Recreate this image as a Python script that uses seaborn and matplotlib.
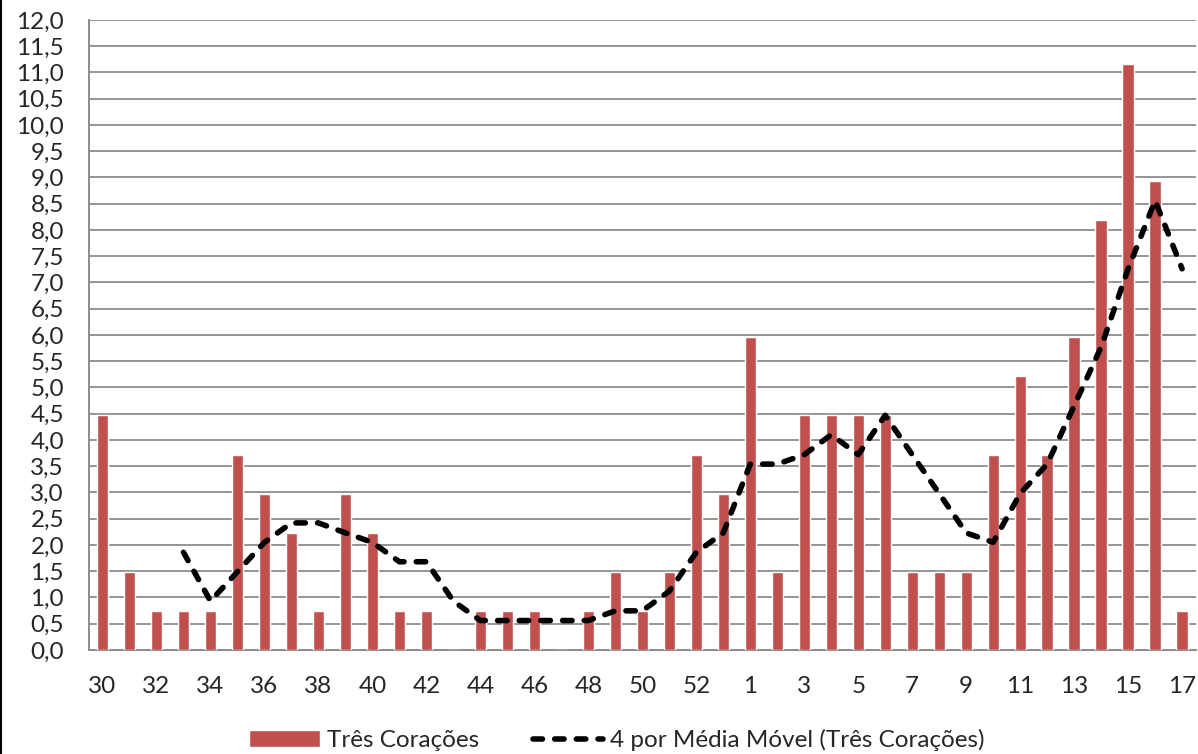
import matplotlib

matplotlib.use("Agg")

import matplotlib.pyplot as plt
import numpy as np
import pandas as pd
import seaborn as sns
from matplotlib.lines import Line2D
from matplotlib.ticker import FixedLocator, FuncFormatter, MultipleLocator

# epidemiological weeks: 30..53 of one year, then 1..17 of the next
WEEKS = [str(w) for w in range(30, 54)] + [str(w) for w in range(1, 18)]

CASES = [
    4.47, 1.49, 0.745, 0.745, 0.745, 3.72, 2.98, 2.23, 0.745, 2.98,
    2.23, 0.745, 0.745, 0.0, 0.745, 0.745, 0.745, 0.0, 0.745, 1.49,
    0.745, 1.49, 3.72, 2.98, 5.96, 1.49, 4.47, 4.47, 4.47, 4.47,
    1.49, 1.49, 1.49, 3.72, 5.21, 3.72, 5.96, 8.19, 11.17, 8.93,
    0.745,
]

MOVING_AVG = [
    None, None, None, 1.86, 0.93, 1.49, 2.05, 2.42, 2.42, 2.23,
    2.05, 1.68, 1.68, 0.93, 0.56, 0.56, 0.56, 0.56, 0.56, 0.745,
    0.745, 1.12, 1.86, 2.23, 3.54, 3.54, 3.72, 4.10, 3.72, 4.47,
    3.72, 2.98, 2.23, 2.05, 2.98, 3.54, 4.65, 5.77, 7.26, 8.56,
    7.26,
]

BAR_LABEL = "Três Corações"
LINE_LABEL = "4 por Média Móvel (Três Corações)"

BAR_COLOR = "#C0504D"
GRID_COLOR = "#8C8C8C"
FONT = ["Lato", "DejaVu Sans"]
FONT_SIZE = 17.5


def main() -> None:
    sns.set_style("white")
    plt.rcParams["font.family"] = FONT

    df = pd.DataFrame(
        {
            "week": WEEKS,
            "pos": np.arange(len(WEEKS)),
            "cases": CASES,
            "ma": pd.to_numeric(pd.Series(MOVING_AVG), errors="coerce"),
        }
    )

    fig = plt.figure(figsize=(11.98, 7.54), dpi=100)
    ax = fig.add_axes([0.0743, 0.138, 0.9237, 0.8355])

    sns.barplot(
        data=df, x="week", y="cases", order=WEEKS, color=BAR_COLOR,
        width=0.42, saturation=1, ax=ax, zorder=3, label=BAR_LABEL,
    )
    line_df = df.dropna(subset=["ma"])
    sns.lineplot(
        data=line_df, x="pos", y="ma", ax=ax, color="black",
        linewidth=4.0, zorder=4, label=LINE_LABEL,
    )
    line = ax.get_lines()[-1]
    line.set_dashes((1.7, 2.2))
    line.set_dash_capstyle("round")

    ax.set_xlim(-0.5, len(WEEKS) - 0.5)
    ax.set_ylim(0, 12)
    ax.yaxis.set_major_locator(MultipleLocator(0.5))
    ax.yaxis.set_major_formatter(FuncFormatter(lambda v, _: f"{v:.1f}".replace(".", ",")))

    label_pos = np.arange(0, len(WEEKS), 2)
    ax.xaxis.set_major_locator(FixedLocator(label_pos))
    ax.set_xticklabels([WEEKS[i] for i in label_pos])
    ax.xaxis.set_minor_locator(FixedLocator(label_pos - 0.5))
    ax.tick_params(axis="x", which="major", length=0, pad=19, labelsize=FONT_SIZE)
    ax.tick_params(axis="x", which="minor", length=6.5, width=1.4, color=GRID_COLOR, direction="out")
    ax.tick_params(axis="y", length=6, width=1.2, color=GRID_COLOR, pad=12, labelsize=FONT_SIZE, direction="out")

    ax.grid(axis="y", color=GRID_COLOR, linewidth=1.3, zorder=0)
    ax.set_axisbelow(True)
    for side in ("top", "right"):
        ax.spines[side].set_visible(False)
    for side in ("left", "bottom"):
        ax.spines[side].set_color(GRID_COLOR)
        ax.spines[side].set_linewidth(1.4)

    ax.set_xlabel("")
    ax.set_ylabel("")

    handles, labels = ax.get_legend_handles_labels()
    order = [labels.index(BAR_LABEL), labels.index(LINE_LABEL)]
    if ax.get_legend() is not None:
        ax.get_legend().remove()
    fig.legend(
        [handles[i] for i in order], [labels[i] for i in order],
        loc="center", bbox_to_anchor=(617 / 1198, 1 - 740 / 754),
        ncol=2, frameon=False, fontsize=FONT_SIZE, handlelength=2.9,
        handletextpad=0.3, columnspacing=2.2,
    )

    fig.add_artist(Line2D([0.001, 0.001], [0, 1], transform=fig.transFigure, color="black", linewidth=1.5))

    fig.savefig("out.png", dpi=100)


if __name__ == "__main__":
    main()
